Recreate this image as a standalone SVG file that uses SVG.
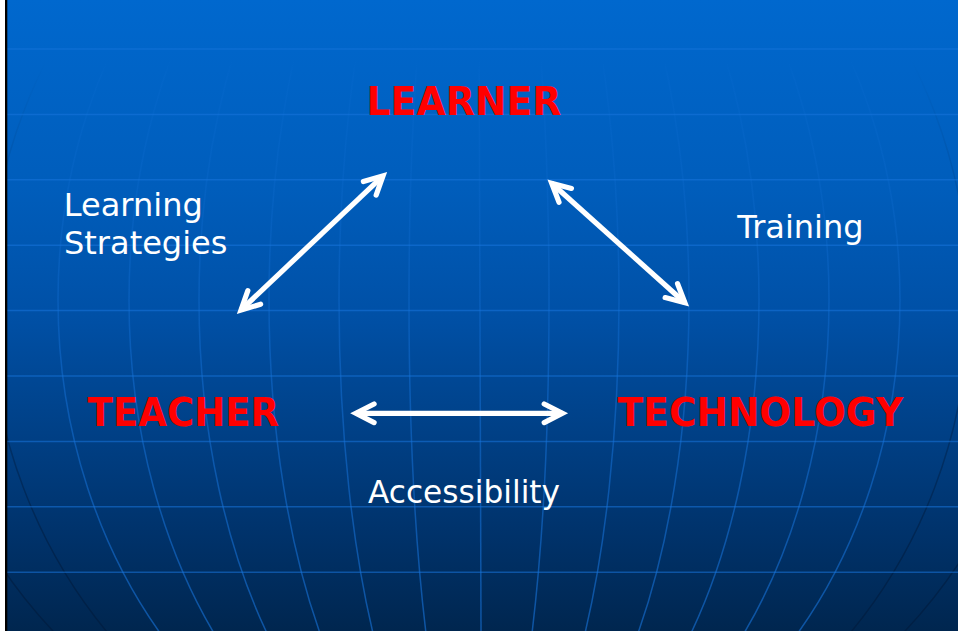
<svg xmlns="http://www.w3.org/2000/svg" width="958" height="631" viewBox="0 0 958 631">
  <defs>
    <linearGradient id="bg" x1="0" y1="0" x2="0" y2="1">
      <stop offset="0" stop-color="#0068CE"/>
      <stop offset="0.3" stop-color="#005DBB"/>
      <stop offset="0.5" stop-color="#0050A6"/>
      <stop offset="0.65" stop-color="#00438C"/>
      <stop offset="0.85" stop-color="#00326A"/>
      <stop offset="1" stop-color="#00264F"/>
    </linearGradient>
    <linearGradient id="merFade" gradientUnits="userSpaceOnUse" x1="0" y1="60" x2="0" y2="631">
      <stop offset="0" stop-color="#1774DC" stop-opacity="0"/>
      <stop offset="0.03" stop-color="#1774DC" stop-opacity="0.1"/>
      <stop offset="0.25" stop-color="#1774DC" stop-opacity="0.2"/>
      <stop offset="0.55" stop-color="#1774DC" stop-opacity="0.45"/>
      <stop offset="1" stop-color="#1774DC" stop-opacity="0.6"/>
    </linearGradient>
    <linearGradient id="darkFade" gradientUnits="userSpaceOnUse" x1="0" y1="60" x2="0" y2="631">
      <stop offset="0" stop-color="#001A3C" stop-opacity="0"/>
      <stop offset="0.5" stop-color="#001A3C" stop-opacity="0.3"/>
      <stop offset="1" stop-color="#001A3C" stop-opacity="0.6"/>
    </linearGradient>
    <marker id="head" markerUnits="userSpaceOnUse" orient="auto-start-reverse" refX="0" refY="0" markerWidth="40" markerHeight="40" viewBox="-30 -20 40 40" overflow="visible">
      <path d="M -18.2,-9.3 L 0,0 L -18.2,9.3" fill="none" stroke="#FFFFFF" stroke-width="5.2" stroke-linecap="round" stroke-linejoin="miter" stroke-miterlimit="4"/>
    </marker>
    <style>
      .hline { stroke: #1774DC; stroke-opacity: 0.55; stroke-width: 1.5; fill: none; }
      .mer { stroke: url(#merFade); stroke-width: 1.5; fill: none; }
      .merdark { stroke: url(#darkFade); stroke-width: 1.5; fill: none; }
      .title { font-family: "DejaVu Sans", Verdana, sans-serif; font-weight: bold; font-size: 38.5px; fill: #FF0000; }
      .label { font-family: "DejaVu Sans", Verdana, sans-serif; font-size: 32px; fill: #FFFFFF; }
      .arrow { stroke: #FFFFFF; stroke-width: 5.2; fill: none; marker-start: url(#head); marker-end: url(#head); }
    </style>
  </defs>

  <g id="background">
    <rect x="0" y="0" width="958" height="631" fill="url(#bg)"/>
    <g id="meridians">
      <line class="mer" x1="479" y1="0" x2="481" y2="631"/>
      <ellipse class="mer" cx="479" cy="300" rx="70" ry="510"/>
      <ellipse class="mer" cx="479" cy="300" rx="140" ry="510"/>
      <ellipse class="mer" cx="479" cy="300" rx="210" ry="510"/>
      <ellipse class="mer" cx="479" cy="300" rx="280" ry="510"/>
      <ellipse class="mer" cx="479" cy="300" rx="350" ry="510"/>
      <ellipse class="mer" cx="479" cy="300" rx="421" ry="510"/>
      <ellipse class="merdark" cx="479" cy="300" rx="490" ry="510"/>
      <ellipse class="merdark" cx="479" cy="300" rx="560" ry="510"/>
    </g>
    <g id="parallels">
      <line class="hline" x1="0" y1="49" x2="958" y2="49"/>
      <line class="hline" x1="0" y1="114.4" x2="958" y2="114.4"/>
      <line class="hline" x1="0" y1="179.8" x2="958" y2="179.8"/>
      <line class="hline" x1="0" y1="245.2" x2="958" y2="245.2"/>
      <line class="hline" x1="0" y1="310.6" x2="958" y2="310.6"/>
      <line class="hline" x1="0" y1="376" x2="958" y2="376"/>
      <line class="hline" x1="0" y1="441.4" x2="958" y2="441.4"/>
      <line class="hline" x1="0" y1="506.8" x2="958" y2="506.8"/>
      <line class="hline" x1="0" y1="572.2" x2="958" y2="572.2"/>
    </g>
    <rect x="0" y="0" width="5" height="631" fill="#FFFFFF"/>
    <rect x="5" y="0" width="2.3" height="631" fill="#000000"/>
  </g>

  <g id="node-learner">
    <text class="title" x="366.5" y="115" textLength="195" lengthAdjust="spacingAndGlyphs">LEARNER</text>
  </g>
  <g id="node-teacher">
    <text class="title" x="87.6" y="425.5" textLength="191.5" lengthAdjust="spacingAndGlyphs">TEACHER</text>
  </g>
  <g id="node-technology">
    <text class="title" x="617.6" y="425.5" textLength="285.5" lengthAdjust="spacingAndGlyphs">TECHNOLOGY</text>
  </g>

  <g id="connectors">
    <g id="edge-learner-teacher">
      <line class="arrow" x1="241" y1="310" x2="383" y2="175.8"/>
      <text class="label" x="63.8" y="216">Learning</text>
      <text class="label" x="64" y="254">Strategies</text>
    </g>
    <g id="edge-learner-technology">
      <line class="arrow" x1="551.7" y1="183.2" x2="684.9" y2="302.8"/>
      <text class="label" x="737.3" y="238.3">Training</text>
    </g>
    <g id="edge-teacher-technology">
      <line class="arrow" x1="355.9" y1="413.3" x2="562.4" y2="413.3"/>
      <text class="label" x="368" y="503.3" textLength="192" lengthAdjust="spacingAndGlyphs">Accessibility</text>
    </g>
  </g>
</svg>
